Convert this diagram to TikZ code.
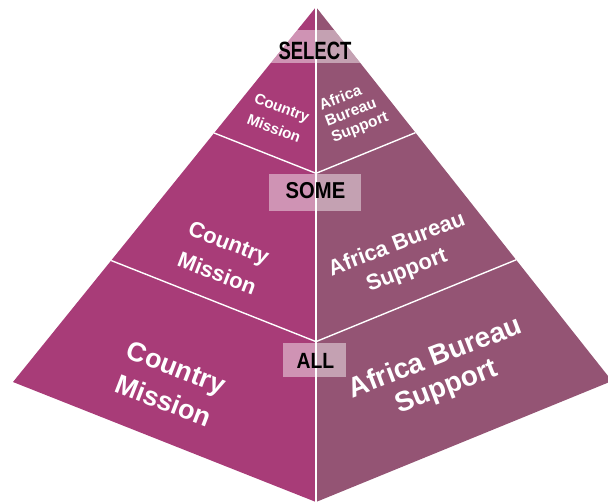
\documentclass[tikz,border=0pt]{standalone}
\usepackage{fontspec}
\setmainfont{Liberation Sans}
\newfontfamily\narrowA[FakeStretch=0.74]{Liberation Sans}
\newfontfamily\narrowB[FakeStretch=0.88]{Liberation Sans}
\usetikzlibrary{calc}
\definecolor{faceL}{HTML}{A83C78}
\definecolor{faceR}{HTML}{945474}
\begin{document}
\begin{tikzpicture}[x=1pt,y=-1pt,
  facelbl/.style={text=white,inner sep=0pt},
  divider/.style={draw=white,line width=1.4pt},
  tierbox/.style={fill=white,fill opacity=0.45,draw=none},
  tiertext/.style={text=black,inner sep=0pt}]
\useasboundingbox (0,0) rectangle (608,501);
\clip (0,0) rectangle (608,501);

% corners of the pyramid
\coordinate (apex) at (316,7);
\coordinate (L) at (13,382);
\coordinate (B) at (316,502);
\coordinate (R) at (612,381);

% tier boundaries on the two faces
\coordinate (L1) at ($(apex)!0.336!(L)$);
\coordinate (C1) at ($(apex)!0.336!(B)$);
\coordinate (R1) at ($(apex)!0.336!(R)$);
\coordinate (L2) at ($(apex)!0.676!(L)$);
\coordinate (C2) at ($(apex)!0.676!(B)$);
\coordinate (R2) at ($(apex)!0.676!(R)$);

% faces
\fill[faceL] (apex) -- (L) -- (B) -- cycle;
\fill[faceR] (apex) -- (B) -- (R) -- cycle;

% dividers
\draw[divider] (apex) -- (B);
\draw[divider] (L1) -- (C1) -- (R1);
\draw[divider] (L2) -- (C2) -- (R2);

% translucent tier label boxes
\begin{scope}
  \clip (apex) -- (L) -- (B) -- (R) -- cycle;
  \fill[tierbox] (200,30) rectangle (440,63);
\end{scope}
\fill[tierbox] (269,174) rectangle (361,211);
\fill[tierbox] (283,343) rectangle (346,377);

% tier labels
\node[tiertext,font=\narrowA\bfseries\fontsize{25}{25}\selectfont] (select) at (315,51) {SELECT};
\node[tiertext,font=\narrowB\bfseries\fontsize{23}{23}\selectfont] (some) at (315.5,191) {SOME};
\node[tiertext,font=\narrowB\bfseries\fontsize{22}{22}\selectfont] (all) at (315.5,361) {ALL};

% face labels
\node[facelbl,align=center,rotate=-21,font=\bfseries\fontsize{15}{22}\selectfont] (cm1) at (278,118) {Country\\Mission};
\node[facelbl,align=left,rotate=21,font=\bfseries\fontsize{15.5}{17}\selectfont] (ab1) at (354,112) {Africa\\Bureau\\Support};
\node[facelbl,align=center,rotate=-21,font=\bfseries\fontsize{22}{33}\selectfont] (cm2) at (223,258) {Country\\Mission};
\node[facelbl,align=center,rotate=21,font=\bfseries\fontsize{22}{28}\selectfont] (ab2) at (402,258) {Africa Bureau\\Support};
\node[facelbl,align=center,rotate=-21,font=\bfseries\fontsize{27}{36}\selectfont] (cm3) at (170,384) {Country\\Mission};
\node[facelbl,align=center,rotate=21,font=\bfseries\fontsize{28}{31}\selectfont] (ab3) at (441,373) {Africa Bureau\\Support};
\end{tikzpicture}
\end{document}
